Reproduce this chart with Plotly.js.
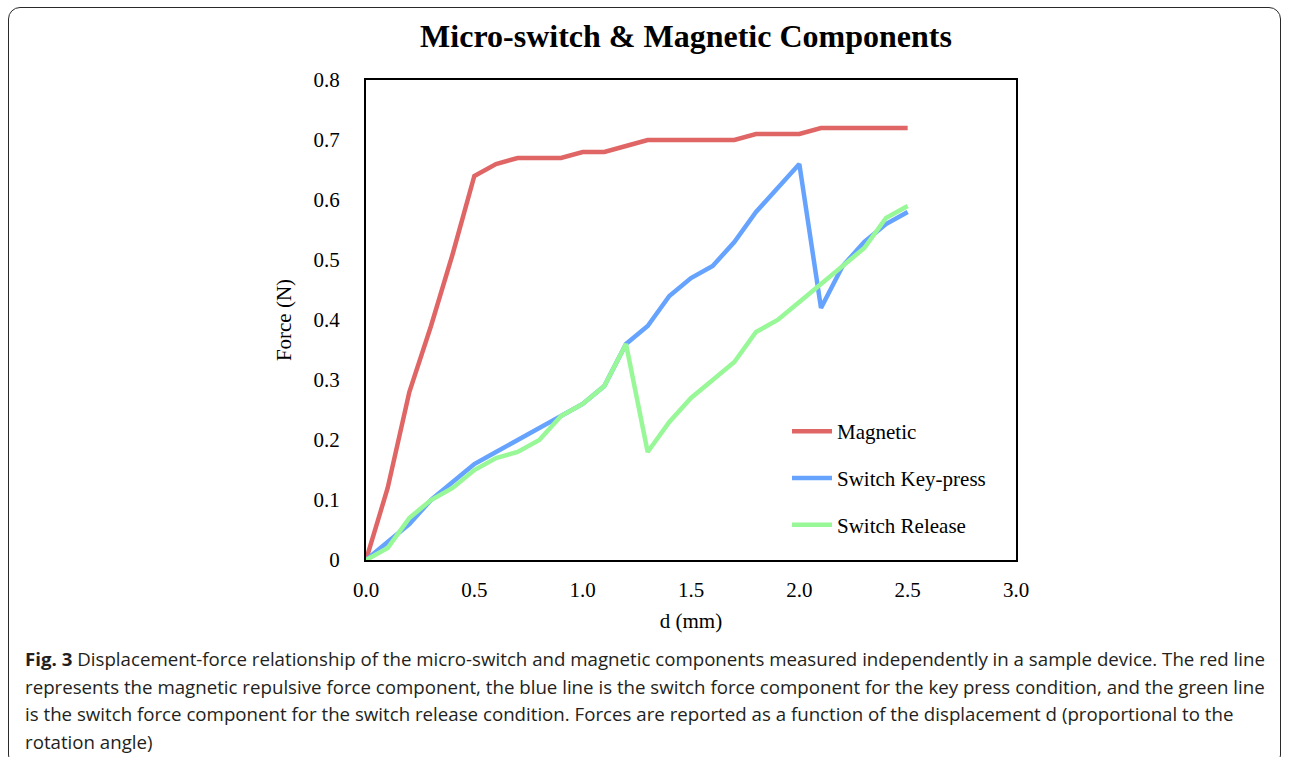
<!DOCTYPE html>
<html>
<head>
<meta charset="utf-8">
<script src="https://cdn.plot.ly/plotly-3.0.1.min.js"></script>
<style>
  html, body { margin: 0; padding: 0; background: #fff; width: 1290px; height: 757px; overflow: hidden; }
  #chart { position: absolute; left: 0; top: 0; width: 1290px; height: 757px; }
  #frame { position: absolute; left: 8px; top: 7px; width: 1273px; height: 760px; border: 1.6px solid #2a2a2a; border-radius: 12px; box-sizing: border-box; pointer-events: none; }
  #caption { position: absolute; left: 25px; top: 646px; font-family: "Open Sans", "Noto Sans", sans-serif; font-size: 18px; color: #231f20; line-height: 27.7px; }
  #caption div { white-space: nowrap; transform-origin: left center; }
</style>
</head>
<body>
<div id="chart"></div>
<div id="frame"></div>
<div id="caption">
  <div><b>Fig. 3</b> Displacement-force relationship of the micro-switch and magnetic components measured independently in a sample device. The red line</div>
  <div>represents the magnetic repulsive force component, the blue line is the switch force component for the key press condition, and the green line</div>
  <div>is the switch force component for the switch release condition. Forces are reported as a function of the displacement d (proportional to the</div>
  <div>rotation angle)</div>
</div>
<script>
// Displacement d (mm)
const displacement = [0.0, 0.1, 0.2, 0.3, 0.4, 0.5, 0.6, 0.7, 0.8, 0.9, 1.0, 1.1, 1.2, 1.3, 1.4, 1.5, 1.6, 1.7, 1.8, 1.9, 2.0, 2.1, 2.2, 2.3, 2.4, 2.5];
// Force (N)
const magnetic        = [0, 0.12, 0.28, 0.39, 0.51, 0.64, 0.66, 0.67, 0.67, 0.67, 0.68, 0.68, 0.69, 0.70, 0.70, 0.70, 0.70, 0.70, 0.71, 0.71, 0.71, 0.72, 0.72, 0.72, 0.72, 0.72];
const switchKeyPress  = [0, 0.03, 0.06, 0.10, 0.13, 0.16, 0.18, 0.20, 0.22, 0.24, 0.26, 0.29, 0.36, 0.39, 0.44, 0.47, 0.49, 0.53, 0.58, 0.62, 0.66, 0.42, 0.49, 0.53, 0.56, 0.58];
const switchRelease   = [0, 0.02, 0.07, 0.10, 0.12, 0.15, 0.17, 0.18, 0.20, 0.24, 0.26, 0.29, 0.36, 0.18, 0.23, 0.27, 0.30, 0.33, 0.38, 0.40, 0.43, 0.46, 0.49, 0.52, 0.57, 0.59];
const seriesNames = ["Magnetic", "Switch Key-press", "Switch Release"];
const xTicks = [0, 0.5, 1.0, 1.5, 2.0, 2.5, 3.0];
const yTicks = [0, 0.1, 0.2, 0.3, 0.4, 0.5, 0.6, 0.7, 0.8];

const serif = "Liberation Serif, Times New Roman, serif";
const colors = ["#e06666", "#66a3ff", "#98f898"];
const seriesData = [magnetic, switchKeyPress, switchRelease];

const traces = seriesData.map((ys, i) => ({
  type: "scatter",
  mode: "lines",
  x: displacement,
  y: ys,
  name: seriesNames[i],
  legendgroup: "g" + i,
  line: { color: colors[i], width: 4.5 },
  hoverinfo: "skip"
}));

const layout = {
  width: 1290,
  height: 757,
  paper_bgcolor: "#ffffff",
  plot_bgcolor: "#ffffff",
  margin: { l: 366, r: 274, t: 80, b: 197, pad: 0 },
  showlegend: true,
  title: {
    text: "<b>Micro-switch & Magnetic Components</b>",
    font: { family: serif, size: 32, color: "#000" },
    x: 686 / 1290, xref: "container", xanchor: "center",
    y: 1 - 36 / 757, yref: "container", yanchor: "middle"
  },
  xaxis: {
    range: [0, 3],
    tickvals: xTicks,
    tickformat: ".1f",
    showgrid: false,
    zeroline: false,
    showline: true,
    mirror: true,
    linecolor: "#000",
    linewidth: 2,
    ticks: "",
    ticklabelstandoff: 10,
    tickfont: { family: serif, size: 21, color: "#000" },
    title: { text: "d (mm)", font: { family: serif, size: 21, color: "#000" }, standoff: 12 },
    fixedrange: true
  },
  yaxis: {
    range: [0, 0.8],
    tickvals: yTicks,
    showgrid: false,
    zeroline: false,
    showline: true,
    mirror: true,
    linecolor: "#000",
    linewidth: 2,
    ticks: "",
    ticklabelstandoff: 20,
    tickfont: { family: serif, size: 21, color: "#000" },
    title: { text: "Force (N)", font: { family: serif, size: 21, color: "#000" }, standoff: 16 },
    fixedrange: true
  },
  legend: {
    x: (787 - 366) / 650, xanchor: "left",
    y: (560 - 411) / 480, yanchor: "top",
    bgcolor: "rgba(255,255,255,0)",
    borderwidth: 0,
    font: { family: serif, size: 21, color: "#000" },
    traceorder: "grouped",
    tracegroupgap: 16.5,
    itemwidth: 40
  }
};

Plotly.newPlot("chart", traces, layout, { displayModeBar: false, staticPlot: true }).then(() => {
  const lines = document.querySelectorAll("#caption div");
  const first = lines[0];
  const range = document.createRange();
  range.selectNodeContents(first);
  const w = range.getBoundingClientRect().width;
  const s = 1240 / w;
  lines.forEach(l => { l.style.transform = "scaleX(" + s + ")"; });
});
</script>
</body>
</html>
